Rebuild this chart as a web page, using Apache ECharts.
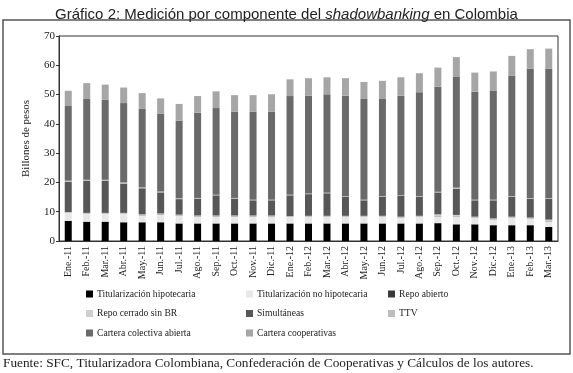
<!DOCTYPE html>
<html>
<head>
<meta charset="utf-8">
<script src="https://cdn.jsdelivr.net/npm/echarts@6/dist/echarts.min.js"></script>
<style>html,body{margin:0;padding:0;background:#fff;}#c{width:573px;height:373px;}</style>
</head>
<body>
<div id="c"></div>
<script>
var categories = ["Ene.-11","Feb.-11","Mar.-11","Abr.-11","May.-11","Jun.-11","Jul.-11","Ago.-11","Sep.-11","Oct.-11","Nov.-11","Dic.-11","Ene.-12","Feb.-12","Mar.-12","Abr.-12","May.-12","Jun.-12","Jul.-12","Ago.-12","Sep.-12","Oct.-12","Nov.-12","Dic.-12","Ene.-13","Feb.-13","Mar.-13"];
var titHipotecaria   = [6.9,6.6,6.6,6.4,6.4,6.4,6.0,6.0,6.0,6.0,6.0,6.0,6.0,6.0,6.0,6.0,6.0,6.0,6.0,6.0,6.1,5.7,5.7,5.4,5.4,5.4,4.8];
var titNoHipotecaria = [2.7,2.7,2.7,2.9,2.4,2.7,2.7,2.4,2.4,2.4,2.4,2.4,2.2,2.3,2.3,2.3,2.3,2.3,2.0,2.3,2.3,2.7,2.3,1.9,2.6,2.2,1.9];
var repoAbierto      = [0.1,0.1,0.1,0.1,0.1,0.1,0.1,0.1,0.1,0.1,0.1,0.1,0.1,0.1,0.1,0.1,0.1,0.1,0.1,0.1,0.1,0.1,0.1,0.1,0.1,0.1,0.1];
var repoCerrado      = [0.2,0.2,0.2,0.2,0.2,0.2,0.2,0.2,0.2,0.2,0.2,0.2,0.2,0.2,0.2,0.2,0.2,0.2,0.2,0.2,0.6,0.4,0.2,0.3,0.2,0.3,0.5];
var simultaneas      = [10.3,10.9,10.9,10.0,8.9,7.2,5.3,5.8,6.9,5.8,5.2,5.2,7.1,7.4,7.7,6.5,5.3,6.5,7.1,6.5,7.5,8.9,5.6,6.2,6.8,6.5,7.2];
var ttv              = [0.4,0.4,0.4,0.4,0.3,0.3,0.3,0.2,0.2,0.2,0.2,0.2,0.2,0.2,0.2,0.2,0.2,0.2,0.2,0.2,0.2,0.4,0.2,0.2,0.2,0.2,0.2];
var carteraColectiva = [25.5,27.6,27.4,27.1,26.8,26.5,26.5,29.1,29.6,29.5,30.1,30.1,33.7,33.4,33.6,34.3,34.4,33.2,34.0,35.5,35.9,38.0,36.9,37.3,41.2,44.1,44.1];
var carteraCoop      = [5.2,5.4,5.1,5.3,5.4,5.3,5.7,5.7,5.7,5.6,5.6,5.9,5.7,6.0,5.8,6.0,5.8,6.2,6.3,6.5,6.5,6.6,6.5,6.5,6.7,6.7,6.9];
var yTicks = [0,10,20,30,40,50,60,70];

var serif = '"Liberation Serif","DejaVu Serif",serif';
var sans = '"Liberation Sans",Arial,sans-serif';

var seriesDefs = [
  ["Titularización hipotecaria", titHipotecaria, "#000000"],
  ["Titularización no hipotecaria", titNoHipotecaria, "#e8e8e8"],
  ["Repo abierto", repoAbierto, "#3a3a3a"],
  ["Repo cerrado sin BR", repoCerrado, "#cfcfcf"],
  ["Simultáneas", simultaneas, "#575757"],
  ["TTV", ttv, "#bdbdbd"],
  ["Cartera colectiva abierta", carteraColectiva, "#6a6a6a"],
  ["Cartera cooperativas", carteraCoop, "#a6a6a6"]
];

var series = seriesDefs.map(function(d){
  return {name:d[0], type:'bar', stack:'s', data:d[1], barWidth:7,
    itemStyle:{color:d[2]}, emphasis:{disabled:true}};
});

function legend(left, names){
  return {orient:'vertical', left:left, top:289, padding:0, itemGap:9.5,
    itemWidth:7, itemHeight:7, icon:'rect', selectedMode:false,
    textStyle:{fontFamily:serif, fontSize:9.6, color:'#222', padding:[0,0,0,-1]},
    data:names};
}

var chart = echarts.init(document.getElementById('c'), null, {renderer:'canvas'});
chart.setOption({
  animation:false,
  backgroundColor:'#fff',
  title:{text:'Gráfico 2: Medición por componente del {i|shadowbanking} en Colombia',
    left:'center', top:2,
    textStyle:{fontFamily:sans, fontSize:15, fontWeight:'normal', color:'#222',
      rich:{i:{fontFamily:sans, fontSize:15, fontStyle:'italic', color:'#222'}}}},
  grid:{left:59, right:15, top:36, bottom:132, show:true, borderColor:'#333', borderWidth:1},
  legend:[
    legend(86, ["Titularización hipotecaria","Repo cerrado sin BR","Cartera colectiva abierta"]),
    legend(246, ["Titularización no hipotecaria","Simultáneas","Cartera cooperativas"]),
    legend(388, ["Repo abierto","TTV"])
  ],
  xAxis:{type:'category', data:categories,
    axisLine:{lineStyle:{color:'#333', width:1}},
    axisTick:{show:false},
    axisLabel:{rotate:90, interval:0, fontFamily:serif, fontSize:10, color:'#222', margin:5}},
  yAxis:{type:'value', min:yTicks[0], max:yTicks[yTicks.length-1], interval:10,
    name:'Billones de pesos', nameLocation:'middle', nameGap:27, nameRotate:90,
    nameTextStyle:{fontFamily:serif, fontSize:11, color:'#222'},
    axisLine:{show:true, lineStyle:{color:'#333'}},
    axisTick:{show:true, length:3, lineStyle:{color:'#333'}},
    splitLine:{show:false},
    axisLabel:{fontFamily:serif, fontSize:11, color:'#222', margin:4}},
  graphic:[
    {type:'rect', shape:{x:3, y:20, width:567, height:334}, style:{fill:null, stroke:'#555', lineWidth:1.5}, z:-1},
    {type:'text', left:3, top:357, style:{text:'Fuente: SFC, Titularizadora Colombiana, Confederación de Cooperativas y Cálculos de los autores.', font:'13.3px ' + serif, fill:'#222'}}
  ],
  series:series
});
</script>
</body>
</html>
